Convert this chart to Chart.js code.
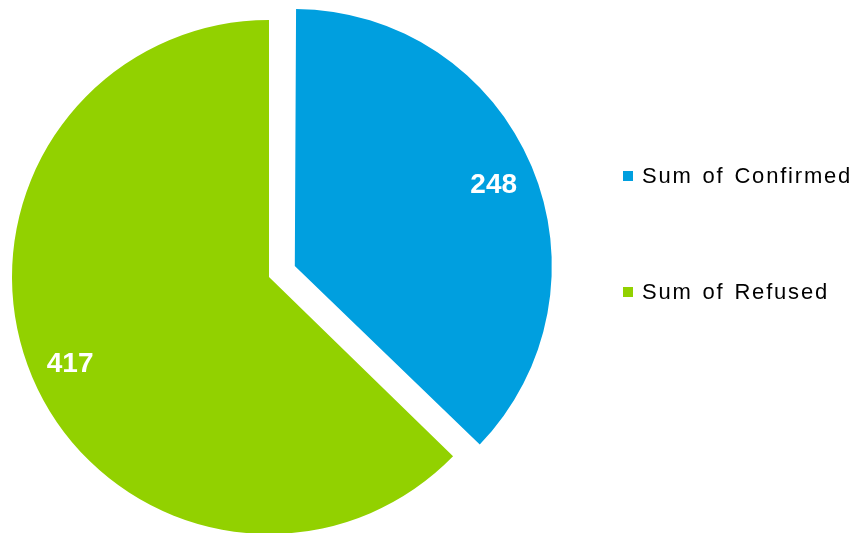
<!DOCTYPE html>
<html>
<head>
<meta charset="utf-8">
<script src="https://cdn.jsdelivr.net/npm/chart.js@4/dist/chart.umd.min.js"></script>
<style>
    html, body { margin: 0; padding: 0; background: #fff; }
    #wrap { position: relative; width: 858px; height: 533px; overflow: hidden; }
    #pieChart { position: absolute; left: 0; top: 0; }
    #legend { position: absolute; left: 623px; top: 0; font-family: Arial, "Liberation Sans", sans-serif; font-size: 22px; letter-spacing: 1.8px; word-spacing: 2px; color: #000; }
    .item { position: absolute; left: 0; white-space: nowrap; }
    .box { position: absolute; left: 0; width: 10px; height: 10px; }
    .txt { position: absolute; left: 19px; top: -8px; line-height: 26px; }
</style>
</head>
<body>
<div id="wrap">
    <canvas id="pieChart" width="858" height="533"></canvas>
    <div id="legend"></div>
</div>
<script>
// Confirmed vs Refused pie
const labels = ['Sum of Confirmed', 'Sum of Refused'];
const values = [248, 417];
const colors = ['#009FDF', '#92D100'];
// Chart.js v4 moves an arc by offset / 4, so 112 gives about 28px
const offsets = [112, 0];
const legendTops = [171, 287];

// v4 also grows an exploded arc a bit; take that back so both slices keep one radius
const arcFit = {
    id: 'arcFit',
    afterDatasetUpdate(chart, args) {
        args.meta.data.forEach(arc => {
            const off = (arc.options.offset || 0) / 4;
            const fix = 1 - Math.sin(Math.min(Math.PI, arc.circumference || 0));
            arc.outerRadius -= off * fix;
        });
    }
};

// Draws the white value inside each slice
const sliceLabels = {
    id: 'sliceLabels',
    afterDatasetsDraw(chart) {
        const ctx = chart.ctx;
        const meta = chart.getDatasetMeta(0);
        ctx.save();
        ctx.fillStyle = '#fff';
        ctx.font = 'bold 28px Arial, "Liberation Sans", sans-serif';
        ctx.textAlign = 'center';
        ctx.textBaseline = 'middle';
        meta.data.forEach((arc, i) => {
            const mid = (arc.startAngle + arc.endAngle) / 2;
            const d = (arc.options.offset || 0) / 4 + 257 * 0.84;
            ctx.fillText(String(values[i]), arc.x + Math.cos(mid) * d, arc.y + Math.sin(mid) * d + 3);
        });
        ctx.restore();
    }
};

const pieChart = new Chart(document.getElementById('pieChart').getContext('2d'), {
    type: 'pie',
    data: {
        labels: labels,
        datasets: [{
            data: values,
            backgroundColor: colors,
            borderWidth: 0,
            offset: offsets,
            clip: false
        }]
    },
    options: {
        responsive: false,
        animation: false,
        radius: 257,
        layout: {
            padding: { left: 0, right: 320, top: 21, bottom: 0 }
        },
        plugins: {
            legend: { display: false },
            tooltip: { enabled: false }
        }
    },
    plugins: [arcFit, sliceLabels]
});

// HTML legend built from the same arrays
const legendEl = document.getElementById('legend');
labels.forEach((label, i) => {
    const item = document.createElement('div');
    item.className = 'item';
    item.style.top = legendTops[i] + 'px';
    item.innerHTML = '<span class="box" style="background:' + colors[i] + '"></span>' +
        '<span class="txt">' + label + '</span>';
    legendEl.appendChild(item);
});
</script>
</body>
</html>
